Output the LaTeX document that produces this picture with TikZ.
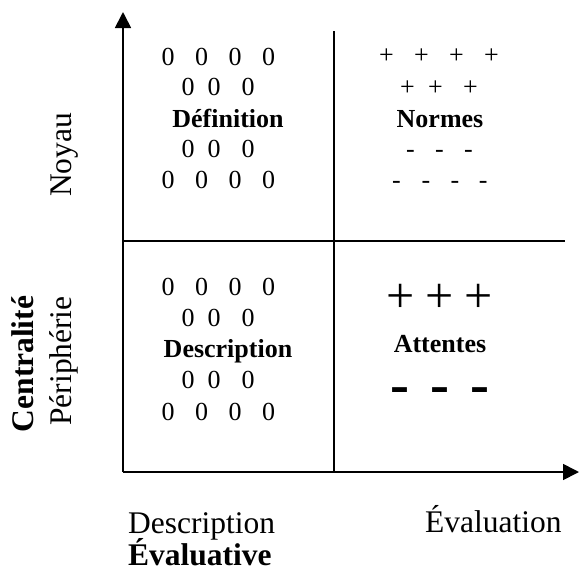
\documentclass[tikz,border=0pt]{standalone}
\usepackage{fontspec}
\setmainfont{Liberation Serif}
\usetikzlibrary{arrows.meta}
\tikzset{
  axis/.style={line width=1.7pt,-{Triangle[width=16pt,length=16pt]}},
  grid/.style={line width=1.7pt},
  qtext/.style={inner sep=0pt,font=\fontsize{26}{30}\selectfont},
  qrow/.style={qtext,anchor=base west},
  qword/.style={inner sep=0pt,anchor=base,font=\fontsize{26}{30}\selectfont\bfseries},
  bigplus/.style={inner sep=0pt,anchor=base west,font=\fontsize{50}{56}\selectfont},
  bigminus/.style={inner sep=0pt,anchor=base west,font=\fontsize{57}{62}\selectfont\bfseries},
  axlabel/.style={inner sep=0pt,anchor=base west,font=\fontsize{31.5}{36}\selectfont},
  vlabel/.style={inner sep=0pt,anchor=base,rotate=90,font=\fontsize{31.5}{36}\selectfont},
}
\newcommand{\gp}[1]{\hspace{#1pt}}
\begin{document}
\begin{tikzpicture}[x=1pt,y=-1pt]
\useasboundingbox (0,0) rectangle (579,571);
% axes
\coordinate (O) at (123,472);
\coordinate (ytip) at (123,12);
\coordinate (xtip) at (579,472);
\coordinate (vtop) at (334,31);
\coordinate (vbot) at (334,472);
\coordinate (hleft) at (123,241);
\coordinate (hright) at (565,241);
\draw[grid] (vtop) -- (vbot);
\draw[grid] (hleft) -- (hright);
\draw[axis] (O) -- (ytip);
\draw[axis] (O) -- (xtip);
% top-left quadrant
\node[qrow] (tl1) at (161.5,65) {0\gp{20.5}0\gp{20.5}0\gp{20.5}0};
\node[qrow] (tl2) at (181.5,95) {0\gp{13}0\gp{21}0};
\node[qword] (def) at (228,127) {Définition};
\node[qrow] (tl4) at (181.5,157) {0\gp{13}0\gp{21}0};
\node[qrow] (tl5) at (161.5,188) {0\gp{20.5}0\gp{20.5}0\gp{20.5}0};
% top-right quadrant
\node[qrow] (tr1) at (379,63) {+\gp{20.3}+\gp{20.3}+\gp{20.3}+};
\node[qrow] (tr2) at (400,95) {+\gp{13.3}+\gp{20.3}+};
\node[qword] (nor) at (440,127) {Normes};
\node[qrow] (tr4) at (406,157) {-\gp{20.3}-\gp{20.3}-};
\node[qrow] (tr5) at (392,188) {-\gp{20.8}-\gp{20.3}-\gp{19.5}-};
% bottom-left quadrant
\node[qrow] (bl1) at (161.5,295) {0\gp{20.5}0\gp{20.5}0\gp{20.5}0};
\node[qrow] (bl2) at (181.5,326) {0\gp{13}0\gp{21}0};
\node[qword] (des) at (228,357) {Description};
\node[qrow] (bl4) at (181.5,388) {0\gp{13}0\gp{21}0};
\node[qrow] (bl5) at (161.5,420) {0\gp{20.5}0\gp{20.5}0\gp{20.5}0};
% bottom-right quadrant
\node[bigplus] (br1) at (386.5,312) {+\gp{10.8}+\gp{10.8}+};
\node[qword] (att) at (440,352) {Attentes};
\node[bigminus] (br3) at (390.5,403.5) {-\gp{21}-\gp{21}-};
% axis labels
\node[axlabel] (xl1) at (128,533) {Description};
\node[axlabel,font=\fontsize{31.5}{36}\selectfont\bfseries] (xl2) at (128,565) {Évaluative};
\node[axlabel] (xl3) at (425,532) {Évaluation};
\node[vlabel] (yl1) at (71,155) {Noyau};
\node[vlabel] (yl2) at (71,361) {Périphérie};
\node[vlabel,font=\fontsize{31.5}{36}\selectfont\bfseries] (yl3) at (34,364) {Centralité};
\end{tikzpicture}
\end{document}
